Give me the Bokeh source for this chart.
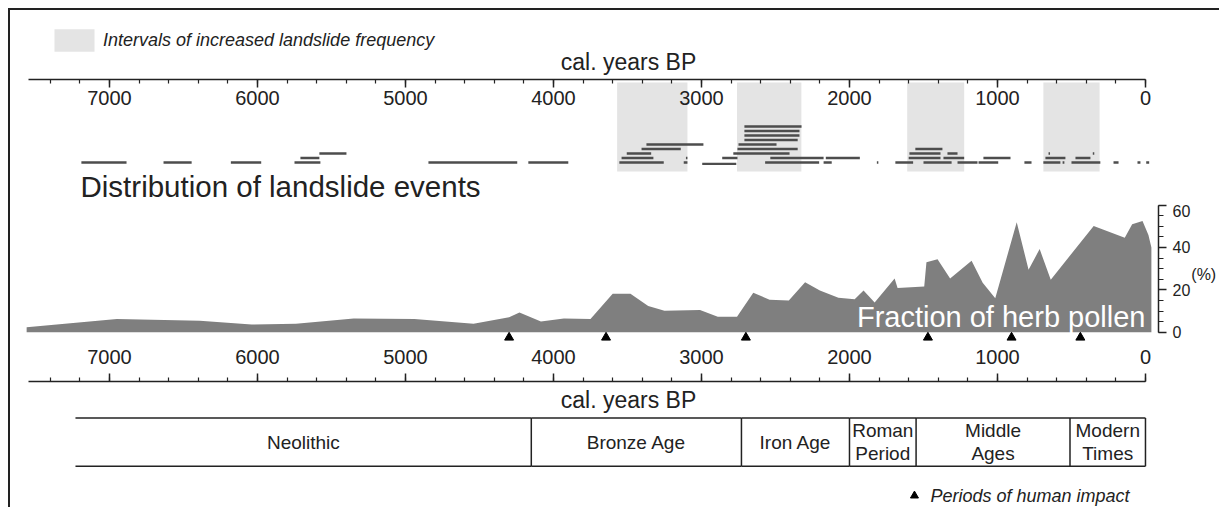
from bokeh.plotting import figure
from bokeh.models import (Range1d, LinearAxis, FixedTicker, Label, Legend, LegendItem,
                          ColumnDataSource)
from bokeh.layouts import column
from bokeh.embed import file_html
from bokeh.resources import INLINE
from bokeh.core.properties import value

# ---------------- data ----------------
# intervals of increased landslide frequency (cal. years BP)
band_start = [3570, 2760, 1610, 690]
band_end = [3095, 2325, 1225, 310]

# dated landslide events: start (older), end (younger), stacking row
ev_start = [7190, 6635, 6180, 5750, 4845, 4170, 3555, 3120, 2995, 2570, 2175, 1815, 1690, 1500,
            1270, 1128, 818, 690, 560, 500, 216, 54, -5,
            5710, 3540, 3105, 2860, 2535, 2160, 1600, 1365, 1095, 676, 473,
            5582, 3505, 2785, 1595, 1338, 655, 356,
            3405, 2757, 1555,
            3372, 2750,
            2710, 2710, 2710, 2710]
ev_end = [6885, 6445, 5975, 5575, 4245, 3900, 3255, 3095, 2765, 2205, 2120, 1805, 1570, 1310,
          1135, 995, 770, 575, 548, 305, 182, 34, -25,
          5582, 3325, 3095, 2757, 2175, 1930, 1385, 1225, 912, 541, 372,
          5399, 3340, 2405, 1385, 1270, 645, 346,
          3140, 2350, 1372,
          2987, 2493,
          2350, 2338, 2338, 2324]
ev_row = [0, 0, 0, 0, 0, 0, 0, 0, -0.3, 0, 0, 0, 0, 0,
          0, 0, 0, 0, 0, 0, 0, 0, 0,
          1, 1, 1, 1, 1, 1, 1, 1, 1, 1, 1,
          2, 2, 2, 2, 2, 2, 2,
          3, 3, 3,
          4, 4,
          5, 6, 7, 8]

# fraction of herb pollen (%)
pollen_bp = [7560, 6950, 6390, 6040, 5740, 5350, 4940, 4540, 4300, 4230, 4085, 3930, 3750,
             3600, 3480, 3360, 3250, 3010, 2890, 2760, 2650, 2540, 2410, 2300, 2200, 2075,
             1965, 1905, 1830, 1695, 1675, 1495, 1480, 1405, 1320, 1175, 1100, 1015, 870,
             790, 715, 640, 350, 140, 90, 20, -20, -40, -40]
pollen_pct = [2.3, 6.2, 5.4, 3.6, 4.0, 6.5, 6.2, 4.0, 7.0, 9.3, 5.1, 6.5, 6.2,
              18.1, 18.1, 12.4, 10.1, 10.5, 7.3, 7.3, 18.6, 15.3, 15.0, 23.6, 19.7, 16.3,
              15.5, 19.7, 14.0, 25.3, 20.9, 21.6, 33.0, 34.4, 25.3, 33.7, 23.3, 16.0, 51.9,
              29.5, 39.2, 24.8, 50.1, 44.5, 50.9, 52.4, 45.8, 40.0, 0.0]

# periods of human impact
impact_bp = [4300, 3645, 2700, 1470, 905, 440]

# cultural periods
periods = ["Neolithic", "Bronze Age", "Iron Age", "Roman\nPeriod", "Middle\nAges", "Modern\nTimes"]
period_start = [7230, 4150, 2730, 2000, 1550, 510]
period_end = [4150, 2730, 2000, 1550, 510, 0]

# axis ticks
year_ticks = [0, 1000, 2000, 3000, 4000, 5000, 6000, 7000]
year_minor = [0, 200, 400, 600, 800, 1000, 1200, 1400, 1600, 1800, 2000, 2200, 2400, 2600,
              2800, 3000, 3200, 3400, 3600, 3800, 4000, 4200, 4400, 4600, 4800, 5000, 5200,
              5400, 5600, 5800, 6000, 6200, 6400, 6600, 6800, 7000, 7200, 7400]
pct_ticks = [0, 20, 40, 60]
pct_minor = [0, 5, 10, 15, 20, 25, 30, 35, 40, 45, 50, 55, 60]

# ---------------- styling ----------------
FONT = "Liberation Sans"
INK = "#222222"
BAND = "#e4e4e4"
AREA = "#7f7f7f"
SEG = "#4d4d4d"

x_range = Range1d(start=7669, end=-88)


def base_fig(frame_height, y_range, min_border_top=0):
    p = figure(frame_width=1148, frame_height=frame_height, min_border_left=0,
               min_border_right=57, min_border_top=min_border_top, min_border_bottom=0,
               x_range=x_range, y_range=y_range, x_axis_location=None, y_axis_location=None,
               toolbar_location=None, output_backend="svg")
    p.outline_line_color = None
    p.xgrid.visible = False
    p.ygrid.visible = False
    return p


def style_axis(ax, size="20px"):
    ax.major_label_text_font = FONT
    ax.major_label_text_font_size = size
    ax.major_label_text_color = INK
    ax.axis_line_color = INK
    ax.axis_line_width = 1.5
    ax.major_tick_line_color = INK
    ax.major_tick_line_width = 1.5
    ax.minor_tick_line_color = INK
    ax.minor_tick_line_width = 1.2


# ---------------- header: legend + axis title ----------------
p0 = base_fig(68, Range1d(0, 1))
# legend key: the band intervals, drawn below this header's visible range
key = p0.quad(left=band_start, right=band_end, bottom=-3, top=-2,
              fill_color=BAND, line_color=None)
legend = Legend(items=[LegendItem(label="Intervals of increased landslide frequency",
                                  renderers=[key])],
                location=(39, 24), glyph_width=50, glyph_height=28, label_standoff=4,
                padding=0, margin=0, spacing=0, border_line_color=None,
                background_fill_alpha=0, label_text_font=FONT,
                label_text_font_style="italic", label_text_font_size="18px",
                label_text_color=INK)
p0.add_layout(legend, "center")
p0.add_layout(Label(x=3493, y=0.25, text="cal. years BP", text_align="center",
                    text_baseline="middle", text_font=FONT, text_font_size="23px",
                    text_color=INK))

# ---------------- landslide events ----------------
pA = base_fig(125, Range1d(-9.33, 18.44), min_border_top=1)
pA.quad(left=band_start, right=band_end, bottom=-2, top=17.8,
        fill_color=BAND, line_color=None)
ev_src = ColumnDataSource(dict(x0=ev_start, x1=ev_end, y=ev_row))
pA.segment(x0="x0", x1="x1", y0="y", y1="y", source=ev_src,
           line_color=SEG, line_width=2.4)

top_axis = LinearAxis(ticker=FixedTicker(ticks=year_ticks, minor_ticks=year_minor),
                      bounds=(0, 7547))
top_axis.major_tick_in = 8
top_axis.major_tick_out = 0
top_axis.minor_tick_in = 4
top_axis.minor_tick_out = 0
top_axis.major_label_standoff = -25
style_axis(top_axis)
pA.add_layout(top_axis, "above")

pA.add_layout(Label(x=7196, y=-5.33, text="Distribution of landslide events",
                    text_align="left", text_baseline="middle", text_font=FONT,
                    text_font_size="29.5px", text_color=INK))

# ---------------- herb pollen ----------------
pB = base_fig(139, Range1d(-5.33, 60.24))
pB.varea(x=pollen_bp, y1=0, y2=pollen_pct, fill_color=AREA)
pB.scatter(x=impact_bp, y=[-2.5] * len(impact_bp), marker="triangle", size=9,
           fill_color="black", line_color="black")

pct_axis = LinearAxis(ticker=FixedTicker(ticks=pct_ticks, minor_ticks=pct_minor),
                      bounds=(0, 60), axis_label="(%)")
pct_axis.major_tick_out = 8
pct_axis.major_tick_in = 0
pct_axis.minor_tick_out = 5
pct_axis.minor_tick_in = 0
pct_axis.major_label_standoff = 6
style_axis(pct_axis, "16px")
pct_axis.axis_label_orientation = "horizontal"
pct_axis.axis_label_standoff = -2
pct_axis.axis_label_text_font = FONT
pct_axis.axis_label_text_font_size = "16px"
pct_axis.axis_label_text_font_style = "normal"
pct_axis.axis_label_text_color = INK
pB.add_layout(pct_axis, "right")

pB.add_layout(Label(x=0, y=7.3, text="Fraction of herb pollen", text_align="right",
                    text_baseline="middle", text_font=FONT, text_font_size="29px",
                    text_color="white"))

# ---------------- bottom axis + periods ----------------
pC = base_fig(126, Range1d(-0.857, 1.755), min_border_top=38)

bot_axis = LinearAxis(ticker=FixedTicker(ticks=year_ticks, minor_ticks=year_minor),
                      bounds=(0, 7547))
bot_axis.major_tick_out = 8
bot_axis.major_tick_in = 0
bot_axis.minor_tick_out = 4
bot_axis.minor_tick_in = 0
bot_axis.major_label_standoff = 10
style_axis(bot_axis)
pC.add_layout(bot_axis, "above")

per_src = ColumnDataSource(dict(x0=period_start, x1=period_end,
                                xm=[(a + b) / 2 for a, b in zip(period_start, period_end)],
                                label=periods))
pC.segment(x0="x0", x1="x1", y0=1, y1=1, source=per_src, line_color=INK, line_width=1.5)
pC.segment(x0="x0", x1="x1", y0=0, y1=0, source=per_src, line_color=INK, line_width=1.5)
pC.segment(x0="x1", x1="x1", y0=0, y1=1, source=per_src, line_color=INK, line_width=1.5)
pC.text(x="xm", y=0.5, text="label", source=per_src, text_align="center",
        text_baseline="middle", text_font=value(FONT), text_font_size="19px",
        text_line_height=1.1, text_color=INK)

pC.add_layout(Label(x=3493, y=1.367, text="cal. years BP", text_align="center",
                    text_baseline="middle", text_font=FONT, text_font_size="23px",
                    text_color=INK))
pC.scatter(x=[1561], y=[-0.612], marker="triangle", size=8, fill_color="black",
           line_color="black")
pC.add_layout(Label(x=1453, y=-0.612, text="Periods of human impact", text_align="left",
                    text_baseline="middle", text_font=FONT, text_font_size="18px",
                    text_font_style="italic", text_color=INK))

layout = column(p0, pA, pB, pC, spacing=0, margin=(8, 0, 0, 8),
                styles={"border-top": "2px solid #222222", "border-left": "2px solid #222222"})

open("out.html", "w").write(file_html(layout, INLINE))
